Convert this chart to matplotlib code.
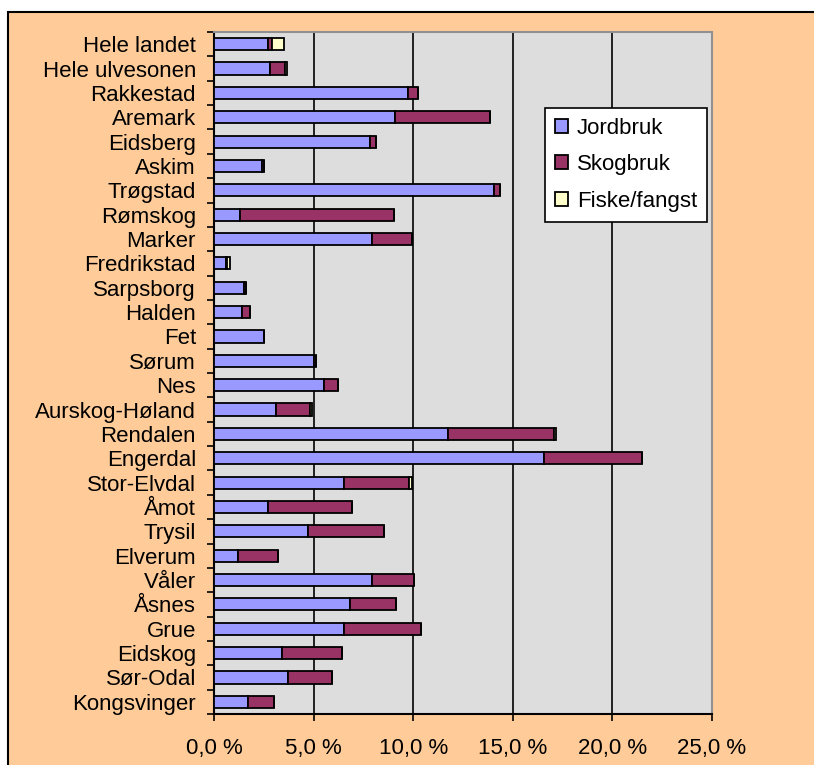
import matplotlib
matplotlib.use('Agg')
import matplotlib.pyplot as plt
from matplotlib.patches import Rectangle
import numpy as np

# Data (share of employment, %)
kommuner = ['Hele landet', 'Hele ulvesonen', 'Rakkestad', 'Aremark', 'Eidsberg',
            'Askim', 'Trøgstad', 'Rømskog', 'Marker', 'Fredrikstad', 'Sarpsborg',
            'Halden', 'Fet', 'Sørum', 'Nes', 'Aurskog-Høland', 'Rendalen',
            'Engerdal', 'Stor-Elvdal', 'Åmot', 'Trysil', 'Elverum', 'Våler',
            'Åsnes', 'Grue', 'Eidskog', 'Sør-Odal', 'Kongsvinger']
jordbruk = [2.73, 2.81, 9.75, 9.07, 7.83, 2.43, 14.07, 1.31, 7.93, 0.60, 1.51,
            1.39, 2.53, 5.04, 5.52, 3.11, 11.76, 16.57, 6.54, 2.73, 4.72, 1.19,
            7.93, 6.83, 6.53, 3.41, 3.71, 1.71]
skogbruk = [0.20, 0.75, 0.47, 4.79, 0.32, 0.10, 0.30, 7.74, 2.03, 0.05, 0.10,
            0.42, 0.00, 0.10, 0.72, 1.71, 5.31, 4.93, 3.25, 4.21, 3.83, 2.02,
            2.11, 2.31, 3.85, 3.00, 2.21, 1.30]
fiske = [0.60, 0.10, 0.00, 0.00, 0.00, 0.00, 0.00, 0.00, 0.00, 0.15, 0.00,
         0.00, 0.00, 0.00, 0.00, 0.10, 0.10, 0.00, 0.17, 0.00, 0.00, 0.00,
         0.00, 0.00, 0.00, 0.00, 0.00, 0.00]
xticks = [0, 5, 10, 15, 20, 25]

plt.rcParams['font.family'] = ['Liberation Sans', 'DejaVu Sans']
fig = plt.figure(figsize=(8.14, 7.65), dpi=100)
fig.patch.set_facecolor('white')

# outer chart border with peach fill
fig.patches.append(Rectangle((8 / 814, -0.02), 1.1, 1 - 12 / 765 + 0.02,
                             transform=fig.transFigure, facecolor='#FFCC99',
                             edgecolor='black', linewidth=1.5, zorder=-5))

ax = fig.add_axes([214 / 814, 1 - 714 / 765, 498 / 814, 682 / 765])
ax.set_facecolor('#DDDDDD')

y = np.arange(len(kommuner))
jord = np.array(jordbruk)
skog = np.array(skogbruk)
fisk = np.array(fiske)
kw = dict(height=0.5, edgecolor='black', linewidth=1.3, zorder=3)
ax.barh(y, jord, color='#9999FF', label='Jordbruk', **kw)
ax.barh(y, skog, left=jord, color='#993366', label='Skogbruk', **kw)
ax.barh(y, fisk, left=jord + skog, color='#FFFFCC', label='Fiske/fangst', **kw)

ax.set_xlim(0, 25)
ax.set_ylim(len(kommuner) - 0.5, -0.5)
ax.set_xticks(xticks)
ax.set_xticklabels([f'{v:.1f} %'.replace('.', ',') for v in xticks])
ax.set_yticks(y)
ax.set_yticklabels(kommuner)
ax.set_yticks(np.arange(-0.5, len(kommuner), 1), minor=True)
ax.tick_params(axis='y', which='major', length=0, pad=13, labelsize=16)
ax.tick_params(axis='y', which='minor', length=5, width=1.2, direction='out')
ax.tick_params(axis='x', length=5, width=1.2, direction='out', pad=12, labelsize=16)

ax.grid(axis='x', color='black', linewidth=1.2, zorder=1)
ax.set_axisbelow(True)
for s in ['left', 'bottom']:
    ax.spines[s].set_color('black')
    ax.spines[s].set_linewidth(1.5)
for s in ['top', 'right']:
    ax.spines[s].set_color('#909090')
    ax.spines[s].set_linewidth(1.5)

leg = ax.legend(loc='upper right', bbox_to_anchor=(0.99, 0.889), fontsize=16,
                frameon=True, fancybox=False, edgecolor='black', framealpha=1,
                handlelength=0.6, handleheight=0.6, handletextpad=0.4,
                labelspacing=0.7, borderpad=0.45, borderaxespad=0)
leg.get_frame().set_linewidth(1.2)
leg.set_zorder(5)

fig.savefig('out.png', dpi=100)
